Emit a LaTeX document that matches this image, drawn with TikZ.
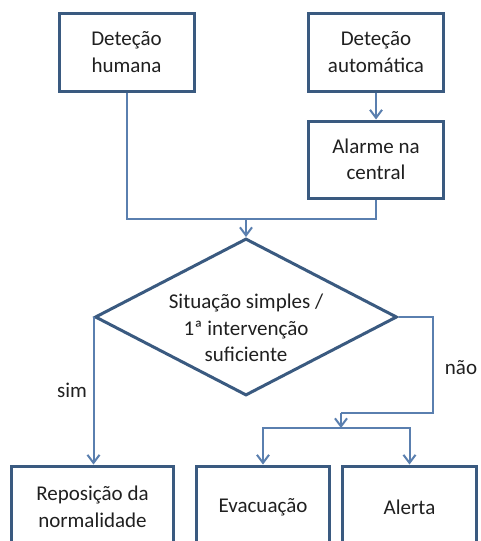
\documentclass[tikz,border=0pt]{standalone}
\usepackage{fontspec}
\setmainfont{Carlito}
\usetikzlibrary{shapes.geometric,arrows.meta}
\definecolor{boxc}{HTML}{3A5A80}
\definecolor{linec}{HTML}{5A7FAF}
\definecolor{txtc}{HTML}{202020}
\begin{document}
\begin{tikzpicture}[x=1pt,y=-1pt,
  every node/.style={text=txtc,font=\fontsize{21}{26.5}\selectfont},
  box/.style={draw=boxc,line width=3pt,rectangle,align=center,inner sep=0pt},
  conn/.style={draw=linec,line width=2pt},
  arr/.style={conn,-{Straight Barb[length=8pt,width=12pt,line width=2pt]}}]
\clip (0,0) rectangle (481,541);
\fill[white] (0,0) rectangle (481,541);
\node[box,minimum width=135pt,minimum height=78pt] (hum) at (126.5,52) {Deteção\\humana};
\node[box,minimum width=135pt,minimum height=78pt] (auto) at (376,52) {Deteção\\automática};
\node[box,minimum width=135pt,minimum height=77pt] (alarm) at (376,159.5) {Alarme na\\central};
\node[diamond,draw=boxc,line width=3pt,minimum width=302pt,minimum height=157pt,inner sep=0pt] (dec) at (246,317) {};
\node[align=center] (dectxt) at (246,328) {Situação simples /\\1ª intervenção\\suficiente};
\node[box,anchor=north,minimum width=162pt,minimum height=82pt] (rep) at (92.5,464.5) {Reposição da\\normalidade};
\node[box,anchor=north,minimum width=133pt,minimum height=82pt] (evac) at (263,464.5) {Evacuação};
\node[box,anchor=north,minimum width=134pt,minimum height=82pt] (alert) at (409.5,464.5) {Alerta};
\coordinate (j1) at (246,219);
\coordinate (n1) at (433,413);
\coordinate (n2) at (341,413);
\coordinate (j2) at (341,428);
\draw[conn] (hum.south) |- (j1) -| (alarm.south);
\draw[arr] (j1) -- (dec.north);
\draw[arr] (auto.south) -- (alarm.north);
\draw[arr] (dec.west) -- (dec.west |- rep.north);
\draw[conn] (dec.east) -| (n1) -- (n2);
\draw[arr] (n2) -- (j2);
\draw[arr] (j2) -| (evac.north);
\draw[arr] (j2) -| (alert.north);
\node (sim) at (72,390) {sim};
\node (nao) at (461,368) {não};
\end{tikzpicture}
\end{document}
